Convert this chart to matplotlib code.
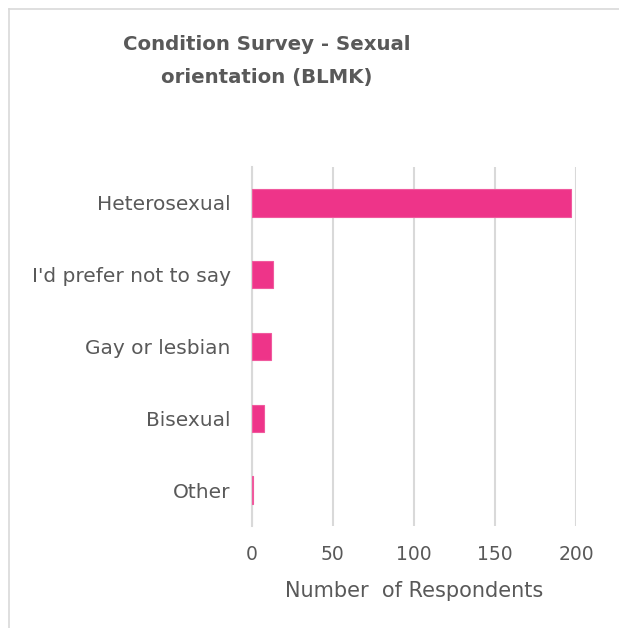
"""
Horizontal bar chart of sexual orientation responses (BLMK condition survey).
"""

import matplotlib
matplotlib.use("Agg")
import matplotlib.pyplot as plt
from matplotlib.lines import Line2D

# Survey categories (top to bottom) and their respondent counts.
categories = ["Heterosexual", "I'd prefer not to say", "Gay or lesbian", "Bisexual", "Other"]
respondents = [197, 13, 12, 8, 1]
x_ticks = [0, 50, 100, 150, 200]

TEXT_COLOR = "#595959"
GRID_COLOR = "#d9d9d9"
BAR_COLOR = "#ee3489"

W, H = 619, 628
fig = plt.figure(figsize=(W / 100, H / 100), dpi=100)
plt.rcParams["font.family"] = ["DejaVu Sans"]


def px(x, y):
    # Convert pixel coordinates (origin top-left) to figure fractions.
    return x / W, 1 - y / H


# Plot area placed in pixel space to match the reference.
left, right, top, bottom = 251.5, 576, 167, 526
axis = fig.add_axes([left / W, 1 - bottom / H, (right - left) / W, (bottom - top) / H])

positions = list(range(len(categories)))
axis.barh(positions, respondents, height=0.38, color=BAR_COLOR,
          edgecolor="#f05a9e", linewidth=0.8, zorder=3)
axis.set_ylim(len(categories) - 0.5, -0.5)
axis.set_xlim(0, 200)
axis.set_yticks(positions)
axis.set_yticklabels(categories)
axis.set_xticks(x_ticks)

axis.tick_params(axis="y", length=0, pad=15, labelsize=14.5, labelcolor=TEXT_COLOR)
axis.tick_params(axis="x", length=0, pad=14, labelsize=13.5, labelcolor=TEXT_COLOR)
axis.grid(axis="x", color=GRID_COLOR, linewidth=1.5, zorder=0)
for side in ["top", "right", "bottom"]:
    axis.spines[side].set_visible(False)
axis.spines["left"].set_color(GRID_COLOR)
axis.spines["left"].set_linewidth(1.5)
axis.spines["left"].set_zorder(1)

axis.set_xlabel("Number  of Respondents", fontsize=15, color=TEXT_COLOR, labelpad=12)

# Two-line bold title.
fig.text(*px(267, 45), "Condition Survey - Sexual", ha="center", va="center",
         fontsize=14.2, fontweight="bold", color=TEXT_COLOR)
fig.text(*px(267, 77), "orientation (BLMK)", ha="center", va="center",
         fontsize=14.2, fontweight="bold", color=TEXT_COLOR)

# Chart frame: only the top and left edges are visible in the crop.
fig.add_artist(Line2D([9 / W, 9 / W], [0, 1 - 9 / H], color=GRID_COLOR, linewidth=1.2,
                      transform=fig.transFigure))
fig.add_artist(Line2D([9 / W, 1], [1 - 9 / H, 1 - 9 / H], color=GRID_COLOR, linewidth=1.2,
                      transform=fig.transFigure))

fig.savefig("out.png", dpi=100, facecolor="white")
